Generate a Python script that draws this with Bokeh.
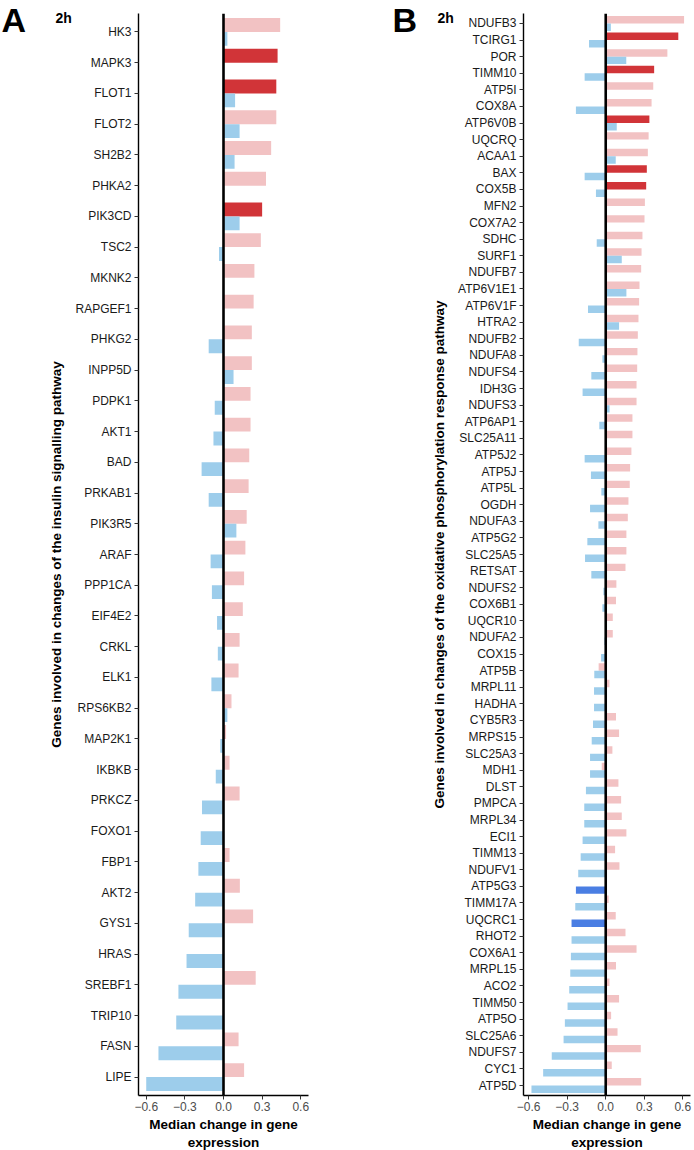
from bokeh.plotting import figure
from bokeh.models import FactorRange, Range1d, Span, Label, ColumnDataSource
from bokeh.transform import dodge
from bokeh.layouts import row
from bokeh.embed import file_html
from bokeh.resources import INLINE

# ---------------- data ----------------
x_ticks = [-0.6, -0.3, 0.0, 0.3, 0.6]
x_tick_labels = ["\u22120.6", "\u22120.3", "0.0", "0.3", "0.6"]

genes_a = ["HK3", "MAPK3", "FLOT1", "FLOT2", "SH2B2", "PHKA2", "PIK3CD", "TSC2",
           "MKNK2", "RAPGEF1", "PHKG2", "INPP5D", "PDPK1", "AKT1", "BAD", "PRKAB1",
           "PIK3R5", "ARAF", "PPP1CA", "EIF4E2", "CRKL", "ELK1", "RPS6KB2", "MAP2K1",
           "IKBKB", "PRKCZ", "FOXO1", "FBP1", "AKT2", "GYS1", "HRAS", "SREBF1",
           "TRIP10", "FASN", "LIPE"]
red_a = [0.44, 0.42, 0.41, 0.41, 0.37, 0.33, 0.30, 0.29,
         0.24, 0.234, 0.22, 0.22, 0.21, 0.21, 0.20, 0.195,
         0.18, 0.17, 0.16, 0.15, 0.125, 0.117, 0.062, 0.02,
         0.047, 0.125, 0.0, 0.047, 0.127, 0.23, 0.0, 0.25,
         0.0, 0.117, 0.16]
blue_a = [0.03, 0.0, 0.09, 0.125, 0.086, 0.0, 0.125, -0.035,
          0.0, 0.0, -0.115, 0.078, -0.068, -0.078, -0.17, -0.115,
          0.10, -0.10, -0.09, -0.05, -0.044, -0.094, 0.03, -0.025,
          -0.06, -0.167, -0.177, -0.195, -0.22, -0.27, -0.287, -0.35,
          -0.367, -0.505, -0.60]
sig_red_a = ["MAPK3", "FLOT1", "PIK3CD"]
sig_blue_a = []

genes_b = ["NDUFB3", "TCIRG1", "POR", "TIMM10", "ATP5I", "COX8A", "ATP6V0B", "UQCRQ",
           "ACAA1", "BAX", "COX5B", "MFN2", "COX7A2", "SDHC", "SURF1", "NDUFB7",
           "ATP6V1E1", "ATP6V1F", "HTRA2", "NDUFB2", "NDUFA8", "NDUFS4", "IDH3G", "NDUFS3",
           "ATP6AP1", "SLC25A11", "ATP5J2", "ATP5J", "ATP5L", "OGDH", "NDUFA3", "ATP5G2",
           "SLC25A5", "RETSAT", "NDUFS2", "COX6B1", "UQCR10", "NDUFA2", "COX15", "ATP5B",
           "MRPL11", "HADHA", "CYB5R3", "MRPS15", "SLC25A3", "MDH1", "DLST", "PMPCA",
           "MRPL34", "ECI1", "TIMM13", "NDUFV1", "ATP5G3", "TIMM17A", "UQCRC1", "RHOT2",
           "COX6A1", "MRPL15", "ACO2", "TIMM50", "ATP5O", "SLC25A6", "NDUFS7", "CYC1",
           "ATP5D"]
red_b = [0.61, 0.565, 0.48, 0.377, 0.37, 0.357, 0.34, 0.334,
         0.328, 0.32, 0.315, 0.305, 0.302, 0.286, 0.279, 0.276,
         0.263, 0.26, 0.255, 0.25, 0.247, 0.245, 0.24, 0.24,
         0.208, 0.208, 0.20, 0.19, 0.187, 0.177, 0.172, 0.161,
         0.161, 0.154, 0.083, 0.08, 0.055, 0.055, 0.0, -0.055,
         0.029, 0.0, 0.08, 0.104, 0.052, -0.031, 0.099, 0.12,
         0.125, 0.161, 0.073, 0.107, 0.0, 0.023, 0.078, 0.154,
         0.24, 0.08, 0.029, 0.104, 0.042, 0.092, 0.273, 0.047,
         0.276]
blue_b = [0.04, -0.13, 0.16, -0.164, 0.0, -0.232, 0.086, 0.0,
          0.078, -0.164, -0.076, 0.0, 0.0, -0.07, 0.125, 0.0,
          0.161, -0.138, 0.104, -0.21, -0.026, -0.112, -0.18, 0.03,
          -0.05, 0.0, -0.164, -0.115, -0.034, -0.122, -0.057, -0.143,
          -0.161, -0.112, -0.018, -0.026, 0.0, -0.01, -0.036, -0.089,
          -0.091, -0.091, -0.099, -0.109, -0.122, -0.122, -0.154, -0.167,
          -0.167, -0.18, -0.195, -0.214, -0.232, -0.237, -0.266, -0.266,
          -0.271, -0.276, -0.284, -0.297, -0.318, -0.328, -0.42, -0.487,
          -0.578]
sig_red_b = ["TCIRG1", "TIMM10", "ATP6V0B", "BAX", "COX5B"]
sig_blue_b = ["ATP5G3", "UQCRC1"]

# ---------------- styling ----------------
FONT = "Liberation Sans"
PINK, RED = "#F2C2C3", "#D13438"
LBLUE, DBLUE = "#9DCDEB", "#4A7EE3"
FRAME_H = 1082


def make_panel(genes, red, blue, sig_red, sig_blue, xlim, ylabel, letter,
               frame_w, border_left, border_right, letter_dx, h_dx):
    c_red = [RED if g in sig_red else PINK for g in genes]
    c_blue = [DBLUE if g in sig_blue else LBLUE for g in genes]
    src = ColumnDataSource(dict(gene=genes, red=red, blue=blue, cr=c_red, cb=c_blue))
    yr = FactorRange(factors=list(reversed(genes)), range_padding=0.1,
                     range_padding_units="absolute")
    p = figure(frame_width=frame_w, frame_height=FRAME_H, y_range=yr,
               x_range=Range1d(*xlim), output_backend="svg", toolbar_location=None,
               min_border_left=border_left, min_border_right=border_right,
               min_border_top=13, min_border_bottom=55)
    p.hbar(y=dodge("gene", 0.225, range=yr), left=0, right="red", height=0.45,
           fill_color="cr", line_color=None, source=src)
    p.hbar(y=dodge("gene", -0.225, range=yr), left=0, right="blue", height=0.45,
           fill_color="cb", line_color=None, source=src)
    p.add_layout(Span(location=0, dimension="height", line_color="black", line_width=2.6))

    p.xgrid.visible = False
    p.ygrid.visible = False
    p.outline_line_color = None
    p.background_fill_color = "white"

    p.xaxis.ticker = x_ticks
    p.xaxis.major_label_overrides = {t: l for t, l in zip(x_ticks, x_tick_labels)}
    p.xaxis.axis_label = "Median change in gene\nexpression"
    p.yaxis.axis_label = ylabel
    for ax in (p.xaxis, p.yaxis):
        ax.axis_line_color = "black"
        ax.axis_line_width = 1.4
        ax.major_tick_line_color = "#333333"
        ax.major_tick_line_width = 1
        ax.major_tick_out = 4
        ax.major_tick_in = 0
        ax.minor_tick_line_color = None
        ax.major_label_text_font = FONT
        ax.major_label_text_font_size = "12px"
        ax.axis_label_text_font = FONT
        ax.axis_label_text_font_size = "13.5px"
        ax.axis_label_text_font_style = "bold"
        ax.axis_label_text_color = "black"
    p.xaxis.major_label_text_color = "#4D4D4D"
    p.yaxis.major_label_text_color = "#1A1A1A"
    p.xaxis.major_label_standoff = 2
    p.xaxis.axis_label_standoff = 3
    p.yaxis.major_label_standoff = 3
    p.yaxis.axis_label_standoff = 8

    # panel letter and time tag, placed in the left side panel (fits in min_border_left)
    p.add_layout(Label(x=letter_dx, y=FRAME_H - 6, x_units="screen", y_units="screen",
                       text=letter, text_font=FONT, text_font_size="34px",
                       text_font_style="bold", text_color="black",
                       text_baseline="alphabetic"), "left")
    p.add_layout(Label(x=h_dx, y=FRAME_H - 4, x_units="screen", y_units="screen",
                       text="2h", text_font=FONT, text_font_size="14px",
                       text_font_style="bold", text_color="black",
                       text_baseline="alphabetic"), "left")
    return p


pa = make_panel(genes_a, red_a, blue_a, sig_red_a, sig_blue_a, (-0.66, 0.66),
                "Genes involved in changes of the insulin signalling pathway", "A",
                170, 138, 18, -20, 50)
pb = make_panel(genes_b, red_b, blue_b, sig_red_b, sig_blue_b, (-0.64, 0.66),
                "Genes involved in changes of the oxidative phosphorylation response pathway", "B",
                167, 197, 4, -12, 49)

layout = row(pa, pb)
open("out.html", "w").write(file_html(layout, INLINE))
